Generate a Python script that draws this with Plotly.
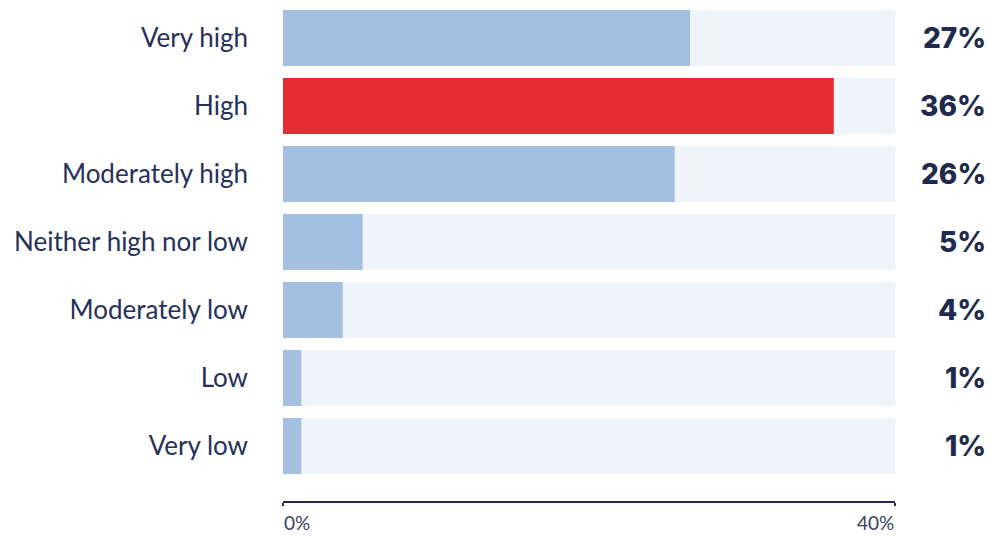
import plotly.graph_objects as go

# Survey responses, top to bottom
categories = ["Very high", "High", "Moderately high", "Neither high nor low",
              "Moderately low", "Low", "Very low"]
shares = [26.6, 36.0, 25.6, 5.2, 3.9, 1.2, 1.2]
highlight = "High"
axis_max = 40
tick_values = [0, 40]
tick_labels = ["0%", "40%"]

NAVY = "#1f2a4f"
BAR_BLUE = "#a4c0e0"
BAR_RED = "#e52d33"
TRACK = "#eff4f9"

bar_colors = [BAR_RED if c == highlight else BAR_BLUE for c in categories]

fig = go.Figure()

# background track spanning the full axis
fig.add_trace(go.Bar(
    y=categories, x=[axis_max] * len(categories), orientation="h",
    marker=dict(color=TRACK, line=dict(width=0)),
    hoverinfo="skip", showlegend=False,
))

# actual values
fig.add_trace(go.Bar(
    y=categories, x=shares, orientation="h",
    marker=dict(color=bar_colors, line=dict(width=0)),
    showlegend=False,
))

# value labels on the right
for c, v in zip(categories, shares):
    fig.add_annotation(
        x=axis_max, y=c, xref="x", yref="y",
        text=f"{round(v)}%", showarrow=False,
        xanchor="right", xshift=93,
        font=dict(family="Inter", size=28, color=NAVY, weight=800),
    )

# axis tick labels, first left-aligned, last right-aligned
for i, (tv, tl) in enumerate(zip(tick_values, tick_labels)):
    fig.add_annotation(
        x=tv, y=0, xref="x", yref="paper",
        text=tl, showarrow=False,
        xanchor="left" if i == 0 else "right",
        yanchor="bottom", yshift=-34, borderpad=0,
        font=dict(family="Lato", size=19, color="#3a4266"),
    )

n = len(categories)
fig.update_layout(
    width=990, height=536,
    margin=dict(l=283, r=95, t=4, b=35),
    paper_bgcolor="white", plot_bgcolor="white",
    barmode="overlay", bargap=12 / 68,
    xaxis=dict(
        range=[0, axis_max], showgrid=False, zeroline=False,
        showline=True, linecolor=NAVY, linewidth=1.5,
        tickmode="array", tickvals=tick_values, ticktext=["", ""],
        ticks="outside", ticklen=3, tickwidth=1.5, tickcolor=NAVY,
        fixedrange=True,
    ),
    yaxis=dict(
        categoryorder="array", categoryarray=categories,
        range=[n - 0.5 + 21 / 68, -0.5],
        showgrid=False, zeroline=False, showline=False,
        ticks="", ticklabelstandoff=34,
        tickfont=dict(family="Lato", size=26, color="#26305a"),
        fixedrange=True,
    ),
)

fig.write_html("out.html")
